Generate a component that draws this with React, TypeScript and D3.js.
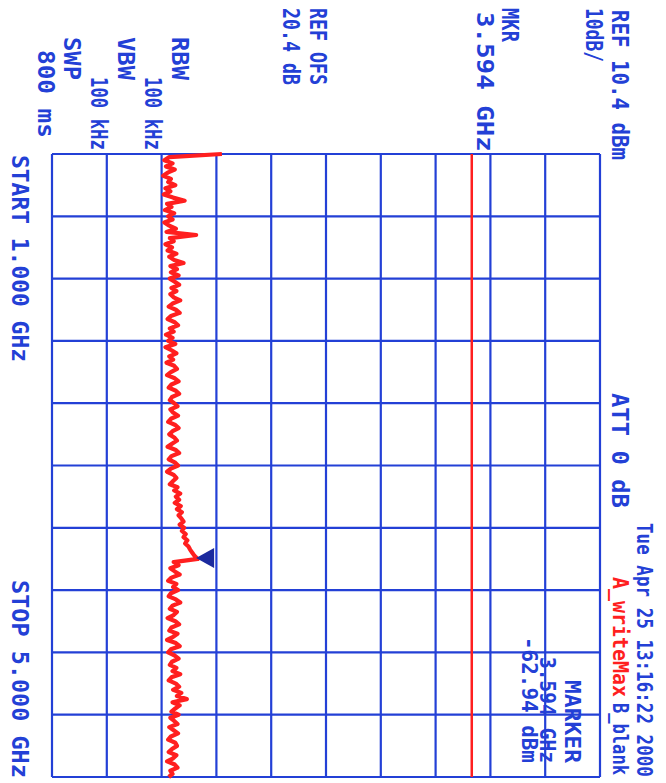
import React from "react";
import * as d3 from "d3";

// spectrum analyzer screen, printed rotated 90deg clockwise
const refLevel = 10.4; // dBm
const dbPerDiv = 10;
const startGHz = 1.0;
const stopGHz = 5.0;
const markerGHz = 3.594;
const markerDbm = -62.94;
const displayLineDbm = -13.0;

// trace A (write max), one value every 20 MHz from 1.000 to 5.000 GHz
const traceDbm = [
  -58.6, -68.2, -69.1, -67.6, -68.8, -67.2, -68.5, -69.3, -67.9, -68.4,
  -67.1, -68.9, -68.0, -69.2, -67.5, -65.4, -68.6, -67.8, -69.0, -67.3,
  -68.4, -67.6, -69.1, -68.2, -67.0, -68.7, -63.3, -68.1, -67.4, -68.9,
  -67.7, -68.5, -66.9, -68.2, -67.3, -65.6, -68.0, -66.8, -67.9, -66.5,
  -68.1, -67.2, -66.4, -67.8, -66.9, -68.0, -67.4, -66.2, -67.6, -68.3,
  -67.0, -66.3, -67.9, -68.5, -67.2, -66.6, -68.1, -67.4, -68.8, -67.6,
  -68.4, -67.1, -68.9, -67.8, -66.9, -68.2, -67.5, -68.7, -67.3, -66.8,
  -67.9, -68.6, -67.2, -66.5, -67.8, -68.3, -67.0, -66.4, -67.7, -68.1,
  -67.3, -66.7, -68.0, -67.5, -66.6, -67.9, -68.4, -67.1, -66.5, -67.6,
  -68.2, -67.3, -66.8, -67.7, -68.5, -67.0, -66.4, -67.8, -68.3, -67.2,
  -66.6, -67.9, -68.6, -67.4, -66.9, -67.5, -68.1, -66.7, -67.3, -66.2,
  -67.0, -66.4, -67.2, -66.1, -66.8, -65.9, -66.5, -66.0, -65.6, -66.3,
  -65.5, -65.9, -65.2, -65.6, -64.9, -65.3, -64.7, -64.4, -64.0, -63.6,
  -63.0, -67.4, -66.5, -68.0, -67.2, -66.3, -67.8, -68.4, -66.9, -67.5,
  -66.6, -67.9, -68.3, -67.0, -66.2, -67.6, -68.1, -66.8, -67.4, -68.5,
  -67.1, -66.4, -67.8, -68.2, -66.7, -67.5, -68.6, -67.0, -66.3, -67.9,
  -68.4, -67.2, -66.5, -67.7, -68.1, -66.9, -67.6, -66.2, -67.8, -68.3,
  -67.0, -66.4, -67.5, -66.0, -66.8, -65.0, -67.6, -66.3, -67.1, -67.8,
  -66.5, -68.0, -67.3, -66.7, -68.2, -67.4, -66.6, -67.9, -68.4, -67.1,
  -66.8, -67.7, -68.3, -66.9, -67.5, -68.6, -67.2, -66.7, -68.0, -67.6,
  -68.3,
];
const traceStep = 0.02;

const headerLabels = ["REF 10.4 dBm", "10dB/", "ATT 0 dB"];
const markerLabels = ["MKR", "3.594 GHz"];
const offsetLabels = ["REF OFS", "20.4 dB"];
const bwLabels = ["RBW", "100 kHz", "VBW", "100 kHz", "SWP", "800 ms"];
const spanLabels = ["START 1.000 GHz", "STOP 5.000 GHz"];
const dateLabel = "Tue Apr 25 13:16:22 2000";
const traceLabels = ["A_writeMax", "B_blank"];
const readoutLabels = ["MARKER", "3.594 GHz", "-62.94 dBm"];

const BLUE = "#2340d6";
const RED = "#ff1f1f";

function VText({ x, y, len, children, fill = BLUE, size = 23 }) {
  // text running top to bottom, letter tops facing right;
  // stretched along the run so it covers `len` pixels
  const natural = String(children).length * 0.602 * size;
  const sx = len / natural;
  return (
    <text
      transform={`translate(${x},${y}) rotate(90) scale(${sx.toFixed(3)},1)`}
      fill={fill}
      fontFamily="'DejaVu Sans Mono', monospace"
      fontWeight="bold"
      fontSize={size}
    >
      {children}
    </text>
  );
}

export default function App() {
  const width = 666;
  const height = 783;

  const x = d3
    .scaleLinear()
    .domain([refLevel - 10 * dbPerDiv, refLevel])
    .range([52, 600]);
  const y = d3.scaleLinear().domain([startGHz, stopGHz]).range([154, 777]);

  const ampLines = d3.range(11).map((i) => refLevel - i * dbPerDiv);
  const freqLines = d3.range(11).map((i) => startGHz + (i * (stopGHz - startGHz)) / 10);

  const line = d3
    .line()
    .x((d) => x(d))
    .y((d, i) => y(startGHz + i * traceStep));

  const mx = x(markerDbm);
  const my = y(markerGHz);

  return (
    <svg
      width={width}
      height={height}
      style={{ position: "absolute", left: 0, top: 0, background: "#fff" }}
    >
      <g stroke={BLUE} strokeWidth={2.2}>
        {ampLines.map((v, i) => (
          <line key={"a" + i} x1={x(v)} x2={x(v)} y1={y(startGHz)} y2={y(stopGHz)} />
        ))}
        {freqLines.map((f, i) => (
          <line key={"f" + i} x1={x.range()[0]} x2={x.range()[1]} y1={y(f)} y2={y(f)} />
        ))}
      </g>

      <line
        x1={x(displayLineDbm)}
        x2={x(displayLineDbm)}
        y1={y(startGHz)}
        y2={y(stopGHz)}
        stroke={RED}
        strokeWidth={2.5}
      />

      <path
        d={line(traceDbm)}
        fill="none"
        stroke={RED}
        strokeWidth={4.2}
        strokeLinejoin="round"
      />

      <path
        d={`M${mx - 2},${my} L${mx + 16},${my - 10} L${mx + 16},${my + 10} Z`}
        fill="#1b2a9e"
      />

      <VText x={612} y={10} len={150}>{headerLabels[0]}</VText>
      <VText x={586} y={8} len={54}>{headerLabels[1]}</VText>
      <VText x={612} y={393} len={115}>{headerLabels[2]}</VText>

      <VText x={502} y={8} len={34}>{markerLabels[0]}</VText>
      <VText x={477} y={12} len={140}>{markerLabels[1]}</VText>

      <VText x={310} y={8} len={77}>{offsetLabels[0]}</VText>
      <VText x={283} y={8} len={77}>{offsetLabels[1]}</VText>

      <VText x={172} y={37} len={43}>{bwLabels[0]}</VText>
      <VText x={145} y={77} len={73}>{bwLabels[1]}</VText>
      <VText x={118} y={37} len={43}>{bwLabels[2]}</VText>
      <VText x={91} y={77} len={73}>{bwLabels[3]}</VText>
      <VText x={64} y={37} len={43}>{bwLabels[4]}</VText>
      <VText x={38} y={50} len={88}>{bwLabels[5]}</VText>

      <VText x={12} y={155} len={207}>{spanLabels[0]}</VText>
      <VText x={12} y={580} len={198}>{spanLabels[1]}</VText>

      <VText x={637} y={523} len={254} size={21}>{dateLabel}</VText>
      <VText x={613} y={577} len={120} fill={RED} size={21}>{traceLabels[0]}</VText>
      <VText x={613} y={703} len={72} size={21}>{traceLabels[1]}</VText>

      <VText x={565} y={680} len={83} size={21}>{readoutLabels[0]}</VText>
      <VText x={540} y={657} len={106} size={21}>{readoutLabels[1]}</VText>
      <VText x={522} y={637} len={126} size={21}>{readoutLabels[2]}</VText>
    </svg>
  );
}
